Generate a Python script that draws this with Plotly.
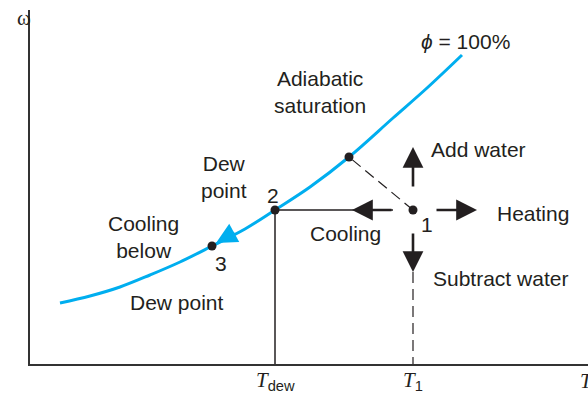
import plotly.graph_objects as go

# saturation curve (phi = 100%): T vs omega (arbitrary units)
curve_T = [30, 60, 90, 120, 150, 182, 215, 245, 280, 319, 363, 397, 432]
curve_w = [61, 68, 77, 89, 102, 118, 135, 154, 177, 207, 246, 276, 309]

# state points
point_names = ["1", "2", "3", "sat"]
point_T = [383, 245, 182, 319]
point_w = [154, 154, 118, 207]

T_dew = 245
T_1 = 383

INK = "#231f20"
CYAN = "#00aeef"
FONT = "Liberation Sans, Arial, sans-serif"
SERIF = "Liberation Serif, Times New Roman, serif"
FS = 21

fig = go.Figure()

# helper lines
fig.add_trace(go.Scatter(x=[T_dew, 363], y=[154, 154], mode="lines",
                         line=dict(color=INK, width=1.5), hoverinfo="skip"))
fig.add_trace(go.Scatter(x=[T_dew, T_dew], y=[154, 0], mode="lines",
                         line=dict(color=INK, width=1.5), hoverinfo="skip"))
fig.add_trace(go.Scatter(x=[T_1, point_T[3]], y=[154, point_w[3]], mode="lines",
                         line=dict(color=INK, width=1.2, dash="11px,6px"), hoverinfo="skip"))
fig.add_trace(go.Scatter(x=[T_1, T_1], y=[92, 0], mode="lines",
                         line=dict(color=INK, width=1.2, dash="11px,6px"), hoverinfo="skip"))

# saturation curve
fig.add_trace(go.Scatter(x=curve_T, y=curve_w, mode="lines",
                         line=dict(color=CYAN, width=3, shape="spline", smoothing=1.0),
                         hoverinfo="skip"))

# points
fig.add_trace(go.Scatter(x=point_T, y=point_w, mode="markers",
                         marker=dict(color=INK, size=9), hoverinfo="skip"))

arrows = [
    # (tail T, tail w, tip T, tip w, color)
    (363, 154, 322, 154, INK),   # cooling
    (405, 154, 447, 154, INK),   # heating
    (383, 176, 383, 217, INK),   # add water
    (383, 132, 383, 92, INK),    # subtract water
    (206, 132, 186, 121, CYAN),  # cooling below dew point
]
for tx, ty, hx, hy, c in arrows:
    fig.add_annotation(x=hx, y=hy, ax=tx, ay=ty, xref="x", yref="y", axref="x", ayref="y",
                       text="", showarrow=True, arrowhead=2, arrowsize=1.6,
                       arrowwidth=2.6, arrowcolor=c, standoff=0)

labels = [
    ("<i>ϕ</i> = 100%", 435, 323),
    ("Adiabatic<br>saturation", 290, 272),
    ("Dew<br>point", 194, 187),
    ("2", 243, 169),
    ("Cooling", 315, 131),
    ("1", 397, 140),
    ("Heating", 503, 151),
    ("Add water", 448, 215),
    ("Subtract water", 470, 86),
    ("Cooling<br>below", 113, 127),
    ("3", 191, 101),
    ("Dew point", 147, 62),
]
for txt, x, y in labels:
    fig.add_annotation(x=x, y=y, text=txt, showarrow=False,
                       font=dict(family=FONT, size=FS, color=INK))

# axis labels (outside the plot area)
fig.add_annotation(x=-0.027, xref="paper", y=346, text="ω", showarrow=False,
                   font=dict(family=SERIF, size=FS, color=INK))
for xv, sub in [(T_dew, "dew"), (T_1, "1")]:
    fig.add_annotation(x=xv, yref="paper", y=-0.049, yanchor="middle", showarrow=False,
                       text=f'<i style="font-family:{SERIF}">T</i><sub>{sub}</sub>',
                       font=dict(family=FONT, size=FS, color=INK))
fig.add_annotation(x=548, yref="paper", y=-0.049, yanchor="middle", xanchor="left",
                   showarrow=False, text="<i>T</i>",
                   font=dict(family=SERIF, size=FS, color=INK))

fig.update_layout(
    width=588, height=394,
    margin=dict(l=30, r=0, t=10, b=30),
    paper_bgcolor="white", plot_bgcolor="white",
    showlegend=False,
    xaxis=dict(range=[0, 558], showgrid=False, zeroline=False, showticklabels=False,
               ticks="", showline=True, linecolor="#333333", linewidth=2),
    yaxis=dict(range=[0, 354], showgrid=False, zeroline=False, showticklabels=False,
               ticks="", showline=True, linecolor="#333333", linewidth=2),
)

fig.write_html("out.html", config={"displayModeBar": False},
               post_script="document.body.style.margin='0';")
